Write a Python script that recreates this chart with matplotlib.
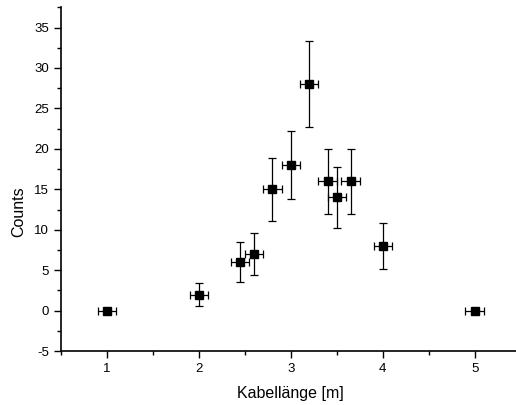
import matplotlib
matplotlib.use('Agg')
import matplotlib.pyplot as plt
from matplotlib.ticker import MultipleLocator

plt.rcParams['font.family'] = ['Liberation Sans', 'DejaVu Sans']
plt.rcParams['axes.unicode_minus'] = False

# cable length [m], counts and their errors
length = [1.0, 2.0, 2.45, 2.6, 2.8, 3.0, 3.2, 3.4, 3.5, 3.65, 4.0, 5.0]
counts = [0, 2, 6, 7, 15, 18, 28, 16, 14, 16, 8, 0]
count_err = [0, 1.41, 2.45, 2.65, 3.87, 4.24, 5.29, 4.0, 3.74, 4.0, 2.83, 0]
length_err = [0.1] * 12

fig = plt.figure(figsize=(5.16, 4.05), dpi=100)
ax = fig.add_axes([0.118, 0.133, 0.891, 0.849])

ax.errorbar(length, counts, xerr=length_err, yerr=count_err, fmt='s', color='black',
            markersize=6.2, elinewidth=0.9, capsize=2.8, capthick=0.9)

ax.set_xlim(0.5, 5.5)
ax.set_ylim(-5, 37.5)
ax.xaxis.set_major_locator(MultipleLocator(1))
ax.xaxis.set_minor_locator(MultipleLocator(0.5))
ax.yaxis.set_major_locator(MultipleLocator(5))
ax.yaxis.set_minor_locator(MultipleLocator(2.5))

ax.spines['top'].set_visible(False)
ax.spines['right'].set_visible(False)
ax.spines['left'].set_linewidth(1.2)
ax.spines['bottom'].set_linewidth(1.2)
ax.tick_params(which='major', direction='out', length=5, width=1, labelsize=9.5)
ax.tick_params(which='minor', direction='out', length=3, width=1)

ax.set_xlabel('Kabellänge [m]', fontsize=11.5, labelpad=8)
ax.set_ylabel('Counts', fontsize=11.5)
ax.yaxis.set_label_coords(-0.075, 0.405)

fig.savefig('out.png', dpi=100)
